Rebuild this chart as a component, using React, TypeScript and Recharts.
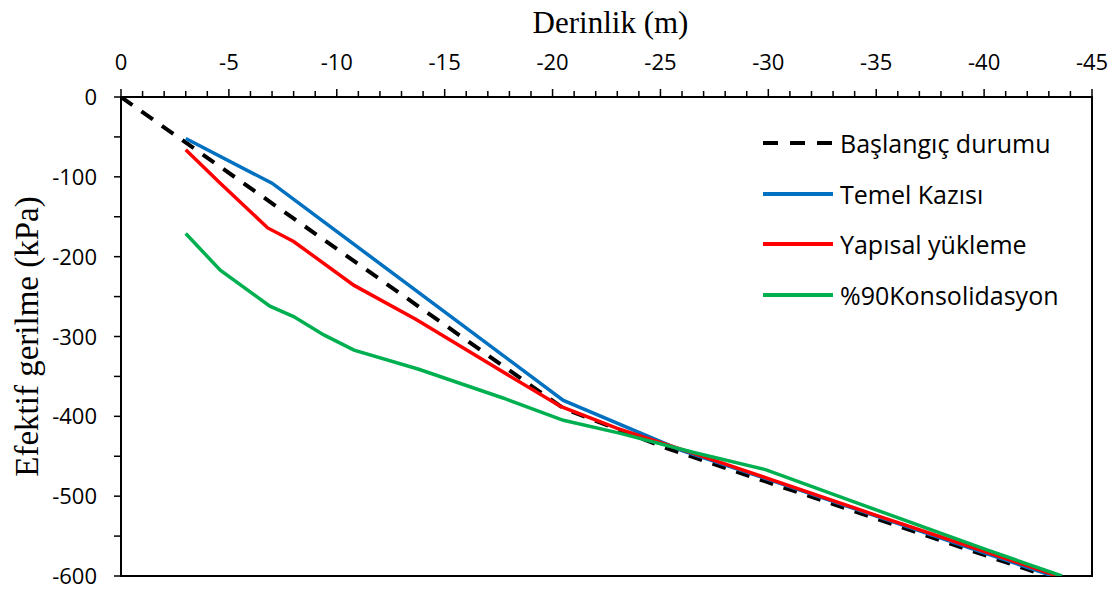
import { LineChart, Line, XAxis, YAxis, Legend, ReferenceArea } from "recharts";

// Başlangıç durumu
const depthInitial = [0, -20.5, -25.3, -42.9];
const stressInitial = [0, -390, -440, -600];

// Temel Kazısı
const depthExcavation = [-3, -7, -20.5, -26, -30, -35, -40, -43.2];
const stressExcavation = [-52, -108, -380, -443, -479, -525, -571, -600];

// Yapısal yükleme
const depthLoading = [-3, -4.6, -6.8, -8, -10.8, -13.7, -17, -20.4, -23, -26.5, -30, -35, -40, -43.4];
const stressLoading = [-66, -108, -164, -181, -236, -279, -333, -388, -415, -446, -478, -524, -569, -600];

// %90Konsolidasyon
const depthConsolidation = [-3, -4.6, -6.9, -8, -9.4, -10.8, -13.8, -17.7, -20.5, -23.1, -26.5, -29.9, -33.75, -40, -43.6];
const stressConsolidation = [-171, -217, -262, -275, -298, -317, -341, -377, -405, -421, -445, -467, -505, -566, -600];

const seriesOrder = ["Başlangıç durumu", "Temel Kazısı", "Yapısal yükleme", "%90Konsolidasyon"];

const xMajorTicks = [0, -5, -10, -15, -20, -25, -30, -35, -40, -45];
const yMajorTicks = [0, -100, -200, -300, -400, -500, -600];
const xTicks = Array.from({ length: 46 }, (_, i) => -i);
const yTicks = Array.from({ length: 13 }, (_, i) => -i * 50);

const toPoints = (depths: number[], stresses: number[]) =>
  depths.map((d, i) => ({ d, s: stresses[i] }));

const FONT = "'Open Sans', sans-serif";
const SERIF = "'Liberation Serif', 'DejaVu Serif', serif";
const TICK_MARGIN = 10;

const XTick = (props: any) => {
  const { x, y, payload } = props;
  const axisY = y + TICK_MARGIN;
  const major = xMajorTicks.includes(payload.value);
  return (
    <g>
      <line x1={x} x2={x} y1={axisY} y2={axisY - (major ? 8 : 6)} stroke="#000" strokeWidth={1.5} />
      {major && (
        <text x={x} y={axisY - 27} textAnchor="middle" fontSize={22} fontFamily={FONT} fill="#000">
          {payload.value}
        </text>
      )}
    </g>
  );
};

const YTick = (props: any) => {
  const { x, y, payload } = props;
  const axisX = x + TICK_MARGIN;
  const major = yMajorTicks.includes(payload.value);
  return (
    <g>
      <line x1={axisX - 7} x2={axisX} y1={y} y2={y} stroke="#000" strokeWidth={1.5} />
      {major && (
        <text x={axisX - 24} y={y + 8} textAnchor="end" fontSize={22} fontFamily={FONT} fill="#000">
          {payload.value}
        </text>
      )}
    </g>
  );
};

const XTitle = (props: any) => {
  const { viewBox } = props;
  return (
    <text x={viewBox.x + viewBox.width / 2 + 4} y={33} textAnchor="middle" fontSize={31} fontFamily={SERIF} fill="#000">
      Derinlik (m)
    </text>
  );
};

const YTitle = (props: any) => {
  const { viewBox } = props;
  const cx = 27;
  const cy = viewBox.y + viewBox.height / 2;
  return (
    <text
      x={cx}
      y={cy}
      transform={`rotate(-90, ${cx}, ${cy})`}
      textAnchor="middle"
      dominantBaseline="central"
      fontSize={33}
      fontFamily={SERIF}
      fill="#000"
    >
      Efektif gerilme (kPa)
    </text>
  );
};

const renderLegend = (props: any) => {
  const payload = [...(props.payload || [])].sort(
    (a: any, b: any) => seriesOrder.indexOf(a.value) - seriesOrder.indexOf(b.value)
  );
  return (
    <div>
      {payload.map((entry: any) => (
        <div key={entry.value} style={{ display: "flex", alignItems: "center", height: 50.5 }}>
          <svg width={72} height={10}>
            <line
              x1={0}
              x2={70}
              y1={5}
              y2={5}
              stroke={entry.color}
              strokeWidth={4}
              strokeDasharray={entry.value === "Başlangıç durumu" ? "15 12" : undefined}
            />
          </svg>
          <span style={{ marginLeft: 5, fontSize: 25, fontFamily: FONT, color: "#000" }}>{entry.value}</span>
        </div>
      ))}
    </div>
  );
};

export default function App() {
  return (
    <div style={{ position: "absolute", left: 0, top: 0, background: "#fff" }}>
      <LineChart width={1120} height={590} margin={{ top: 0, right: 28, bottom: 14, left: 0 }}>
        <XAxis
          type="number"
          dataKey="d"
          orientation="top"
          domain={[-45, 0]}
          reversed
          ticks={xTicks}
          interval={0}
          tick={<XTick />}
          tickLine={false}
          tickSize={0}
          tickMargin={TICK_MARGIN}
          height={97}
          axisLine={{ stroke: "#000", strokeWidth: 2 }}
          allowDataOverflow
          label={<XTitle />}
        />
        <YAxis
          type="number"
          dataKey="s"
          domain={[-600, 0]}
          ticks={yTicks}
          interval={0}
          tick={<YTick />}
          tickLine={false}
          tickSize={0}
          tickMargin={TICK_MARGIN}
          width={121}
          axisLine={{ stroke: "#000", strokeWidth: 2 }}
          allowDataOverflow
          label={<YTitle />}
        />
        <ReferenceArea x1={-45} x2={0} y1={-600} y2={0} fill="none" stroke="#000" strokeWidth={2} />
        <Line
          name="Başlangıç durumu"
          data={toPoints(depthInitial, stressInitial)}
          dataKey="s"
          type="linear"
          stroke="#000000"
          strokeWidth={4}
          strokeDasharray="14 11"
          dot={false}
          isAnimationActive={false}
        />
        <Line
          name="Temel Kazısı"
          data={toPoints(depthExcavation, stressExcavation)}
          dataKey="s"
          type="linear"
          stroke="#0070C0"
          strokeWidth={3.5}
          dot={false}
          isAnimationActive={false}
        />
        <Line
          name="Yapısal yükleme"
          data={toPoints(depthLoading, stressLoading)}
          dataKey="s"
          type="linear"
          stroke="#FF0000"
          strokeWidth={3.5}
          dot={false}
          isAnimationActive={false}
        />
        <Line
          name="%90Konsolidasyon"
          data={toPoints(depthConsolidation, stressConsolidation)}
          dataKey="s"
          type="linear"
          stroke="#00B050"
          strokeWidth={3.5}
          dot={false}
          isAnimationActive={false}
        />
        <Legend
          layout="vertical"
          align="center"
          verticalAlign="middle"
          content={renderLegend}
          wrapperStyle={{ left: 763, top: 118, width: 340 }}
        />
      </LineChart>
    </div>
  );
}
